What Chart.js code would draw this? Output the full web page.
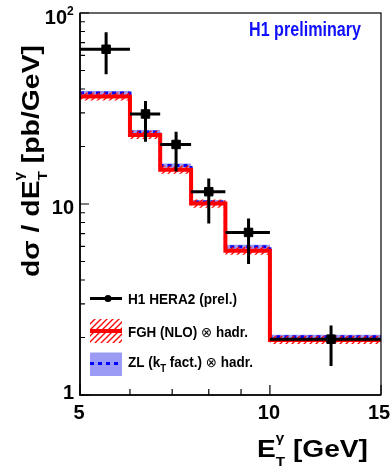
<!DOCTYPE html>
<html>
<head>
<meta charset="utf-8">
<script src="https://cdn.jsdelivr.net/npm/chart.js@4.4.1/dist/chart.umd.min.js"></script>
<style>
  html, body { margin: 0; padding: 0; background: #fff; }
  canvas { display: block; }
</style>
</head>
<body>
<canvas id="chart" width="390" height="466"></canvas>
<script>
/* ================= DATA ================= */
const binEdges = [5, 6, 6.7, 7.5, 8.5, 10, 15];

// FGH (NLO) x hadr. : central value and band
const fghVals = [36.5, 23.0, 15.1, 10.05, 5.69, 1.94];
const fghLow  = [34.8, 21.9, 14.4, 9.57, 5.42, 1.85];
const fghHigh = [38.3, 24.2, 15.9, 10.55, 5.97, 2.04];

// ZL (kT fact.) x hadr. : central value and band
const zlVals = [38.1, 23.85, 15.9, 10.23, 5.97, 2.02];
const zlLow  = [37.2, 23.3, 15.5, 9.98, 5.82, 1.97];
const zlHigh = [39.0, 24.4, 16.3, 10.5, 6.12, 2.07];

// H1 HERA2 (prel.) data points
const dataX  = [5.5, 6.35, 7.1, 8.0, 9.25, 12.5];
const dataY  = [64.6, 29.6, 20.5, 11.6, 7.1, 1.96];
const dataHi = [79.2, 34.6, 23.9, 13.6, 8.4, 2.31];
const dataLo = [47.8, 21.2, 14.8, 7.9, 4.85, 1.42];

// axis ticks
const xTickVals   = [5, 10, 15];
const xTickLabels = ["5", "10", "15"];
const xMinorTicks = [6, 7, 8, 9];
const yTickVals   = [1, 10, 100];
const yMinorTicks = [2, 3, 4, 5, 6, 7, 8, 9, 20, 30, 40, 50, 60, 70, 80, 90];

/* ================= STYLE ================= */
const FONT = "'Liberation Sans', Arial, Helvetica, sans-serif";
const RED = "#ff0000";
const BLUE = "#0000ff";
const ZL_FILL = "#9b9bf5";

/* ================= HELPERS ================= */
function steps(vals) {
  return binEdges.map((x, i) => ({ x, y: vals[Math.min(i, vals.length - 1)] }));
}

function hatchPattern(ctx) {
  const c = document.createElement("canvas");
  c.width = 6; c.height = 6;
  const g = c.getContext("2d");
  g.strokeStyle = "#ff0000";
  g.lineWidth = 1.3;
  g.beginPath();
  g.moveTo(-1, 7); g.lineTo(7, -1);
  g.moveTo(-4, 4); g.lineTo(4, -4);
  g.moveTo(2, 10); g.lineTo(10, 2);
  g.stroke();
  return ctx.createPattern(c, "repeat");
}

// rich text: parts {t, f, dy, adv}, optionally stretched to a target length
function drawRich(ctx, parts, target) {
  let total = 0;
  parts.forEach(p => {
    ctx.font = p.f;
    p.w = ctx.measureText(p.t).width;
    if (p.adv !== false) total += p.w;
  });
  const s = target ? target / total : 1;
  ctx.save();
  ctx.scale(s, 1);
  let x = 0;
  parts.forEach(p => {
    ctx.font = p.f;
    ctx.fillText(p.t, x, p.dy || 0);
    if (p.adv !== false) x += p.w;
  });
  ctx.restore();
}

/* ================= PLUGINS ================= */
const errorBars = {
  id: "errorBars",
  afterDatasetsDraw(chart) {
    const { ctx, scales: { x, y } } = chart;
    ctx.save();
    ctx.strokeStyle = "#000";
    ctx.lineWidth = 3;
    dataX.forEach((v, i) => {
      const px = x.getPixelForValue(v);
      const py = y.getPixelForValue(dataY[i]);
      ctx.beginPath();
      ctx.moveTo(px, y.getPixelForValue(dataLo[i]));
      ctx.lineTo(px, y.getPixelForValue(dataHi[i]));
      ctx.moveTo(x.getPixelForValue(binEdges[i]), py);
      ctx.lineTo(x.getPixelForValue(binEdges[i + 1]), py);
      ctx.stroke();
    });
    ctx.restore();
  }
};

const decor = {
  id: "decor",
  afterDraw(chart) {
    const { ctx, chartArea: a, scales: { x, y } } = chart;
    ctx.save();

    // frame
    ctx.strokeStyle = "#000";
    ctx.lineWidth = 1.2;
    ctx.strokeRect(a.left, a.top, a.right - a.left, a.bottom - a.top);
    ctx.lineWidth = 1.6;
    ctx.beginPath();
    ctx.moveTo(a.left, a.top); ctx.lineTo(a.left, a.bottom); ctx.lineTo(a.right, a.bottom);
    ctx.stroke();

    // ticks (inside)
    ctx.lineWidth = 1.2;
    ctx.beginPath();
    yMinorTicks.forEach(v => {
      const py = y.getPixelForValue(v);
      ctx.moveTo(a.left, py); ctx.lineTo(a.left + 5, py);
    });
    yTickVals.forEach(v => {
      const py = y.getPixelForValue(v);
      ctx.moveTo(a.left, py); ctx.lineTo(a.left + 9, py);
    });
    xMinorTicks.forEach(v => {
      const px = x.getPixelForValue(v);
      ctx.moveTo(px, a.bottom); ctx.lineTo(px, a.bottom - 6);
    });
    xTickVals.forEach(v => {
      const px = x.getPixelForValue(v);
      ctx.moveTo(px, a.bottom); ctx.lineTo(px, a.bottom - 10);
    });
    ctx.stroke();

    // tick labels
    ctx.fillStyle = "#000";
    ctx.font = "bold 20px " + FONT;
    ctx.textBaseline = "alphabetic";
    ctx.textAlign = "right";
    ctx.fillText("1", 74, y.getPixelForValue(1) + 4);
    ctx.fillText("10", 74, y.getPixelForValue(10) + 10);
    ctx.fillText("10", 67, y.getPixelForValue(100) + 11);
    ctx.font = "bold 12px " + FONT;
    ctx.textAlign = "left";
    ctx.fillText("2", 67, y.getPixelForValue(100) + 2);

    ctx.font = "bold 20px " + FONT;
    ctx.textAlign = "center";
    xTickVals.forEach((v, i) => {
      let px = x.getPixelForValue(v);
      if (i === xTickVals.length - 1) px -= 1;
      ctx.fillText(xTickLabels[i], px - 1, 419);
    });

    // axis titles
    ctx.textAlign = "left";
    const big = "bold 24px " + FONT;
    const small = "bold 13px " + FONT;
    ctx.save();
    ctx.translate(38.5, 277);
    ctx.rotate(-Math.PI / 2);
    drawRich(ctx, [
      { t: "d\u03c3 / dE", f: big },
      { t: "\u03b3", f: small, dy: -16, adv: false },
      { t: "T", f: small, dy: 8 },
      { t: " [pb/GeV]", f: big }
    ], 232);
    ctx.restore();

    ctx.save();
    ctx.translate(257, 457);
    drawRich(ctx, [
      { t: "E", f: big },
      { t: "\u03b3", f: small, dy: -15, adv: false },
      { t: "T", f: small, dy: 9 },
      { t: " [GeV]", f: big }
    ], 111);
    ctx.restore();

    // H1 preliminary
    ctx.fillStyle = "#1010ff";
    ctx.save();
    ctx.translate(249, 36);
    drawRich(ctx, [{ t: "H1 preliminary", f: "bold 20px " + FONT }], 112);
    ctx.restore();

    // legend
    const lx0 = 90, lx1 = 122, tx = 128;
    ctx.strokeStyle = "#000";
    ctx.fillStyle = "#000";
    ctx.lineWidth = 3;
    ctx.beginPath();
    ctx.moveTo(lx0, 298.5); ctx.lineTo(lx1, 298.5);
    ctx.stroke();
    ctx.beginPath();
    ctx.arc(108, 298.5, 3.5, 0, Math.PI * 2);
    ctx.fill();

    ctx.fillStyle = hatchPattern(ctx);
    ctx.fillRect(lx0, 319, lx1 - lx0, 24);
    ctx.strokeStyle = RED;
    ctx.lineWidth = 4;
    ctx.beginPath();
    ctx.moveTo(lx0, 331); ctx.lineTo(lx1, 331);
    ctx.stroke();

    ctx.fillStyle = ZL_FILL;
    ctx.fillRect(lx0, 352.5, lx1 - lx0, 23.5);
    ctx.strokeStyle = BLUE;
    ctx.lineWidth = 3;
    ctx.setLineDash([4, 4]);
    ctx.beginPath();
    ctx.moveTo(lx0, 363.5); ctx.lineTo(lx1, 363.5);
    ctx.stroke();
    ctx.setLineDash([]);

    ctx.fillStyle = "#000";
    const lf = "bold 14px " + FONT;
    const sym = "14px 'DejaVu Sans', sans-serif";
    ctx.save();
    ctx.translate(tx, 304);
    drawRich(ctx, [{ t: "H1 HERA2 (prel.)", f: lf }], 109);
    ctx.restore();
    ctx.save();
    ctx.translate(tx, 337);
    drawRich(ctx, [
      { t: "FGH (NLO) ", f: lf },
      { t: "\u2297", f: sym },
      { t: " hadr.", f: lf }
    ], 120);
    ctx.restore();
    ctx.save();
    ctx.translate(tx, 367);
    drawRich(ctx, [
      { t: "ZL (k", f: lf },
      { t: "T", f: "bold 10px " + FONT, dy: 5 },
      { t: " fact.) ", f: lf },
      { t: "\u2297", f: sym },
      { t: " hadr.", f: lf }
    ], 125);
    ctx.restore();

    ctx.restore();
  }
};

/* ================= CHART ================= */
const ctx = document.getElementById("chart").getContext("2d");
const hatch = hatchPattern(ctx);

const STEP = "before";
const bandLine = { borderColor: "transparent", borderWidth: 0, pointRadius: 0, stepped: STEP, fill: false };

new Chart(ctx, {
  type: "line",
  data: {
    datasets: [
      { ...bandLine, label: "ZL high", data: steps(zlHigh), order: 10 },
      { ...bandLine, label: "ZL low", data: steps(zlLow), fill: "-1", backgroundColor: ZL_FILL, order: 9 },
      { label: "ZL", data: steps(zlVals), stepped: STEP, borderColor: BLUE, borderWidth: 3,
        borderDash: [4, 4], pointRadius: 0, fill: false, order: 8 },
      { ...bandLine, label: "FGH high", data: steps(fghHigh), order: 7 },
      { ...bandLine, label: "FGH low", data: steps(fghLow), fill: "-1", backgroundColor: hatch, order: 6 },
      { label: "FGH", data: steps(fghVals), stepped: STEP, borderColor: RED, borderWidth: 4,
        pointRadius: 0, fill: false, order: 5 },
      { label: "H1 HERA2 (prel.)", type: "scatter", data: dataX.map((x, i) => ({ x, y: dataY[i] })),
        pointStyle: "rect", pointRadius: 6, backgroundColor: "#000", borderColor: "#000", order: 0 }
    ]
  },
  options: {
    responsive: false,
    devicePixelRatio: 1,
    animation: false,
    layout: { padding: { left: 0, top: 13, right: 9, bottom: 0 } },
    plugins: { legend: { display: false }, tooltip: { enabled: false } },
    scales: {
      x: {
        type: "logarithmic", min: 5, max: 15,
        grid: { display: false }, border: { display: false }, ticks: { display: false },
        afterFit: s => { s.height = 71; }
      },
      y: {
        type: "logarithmic", min: 1, max: 100,
        grid: { display: false }, border: { display: false }, ticks: { display: false },
        afterFit: s => { s.width = 80; }
      }
    }
  },
  plugins: [errorBars, decor]
});
</script>
</body>
</html>
